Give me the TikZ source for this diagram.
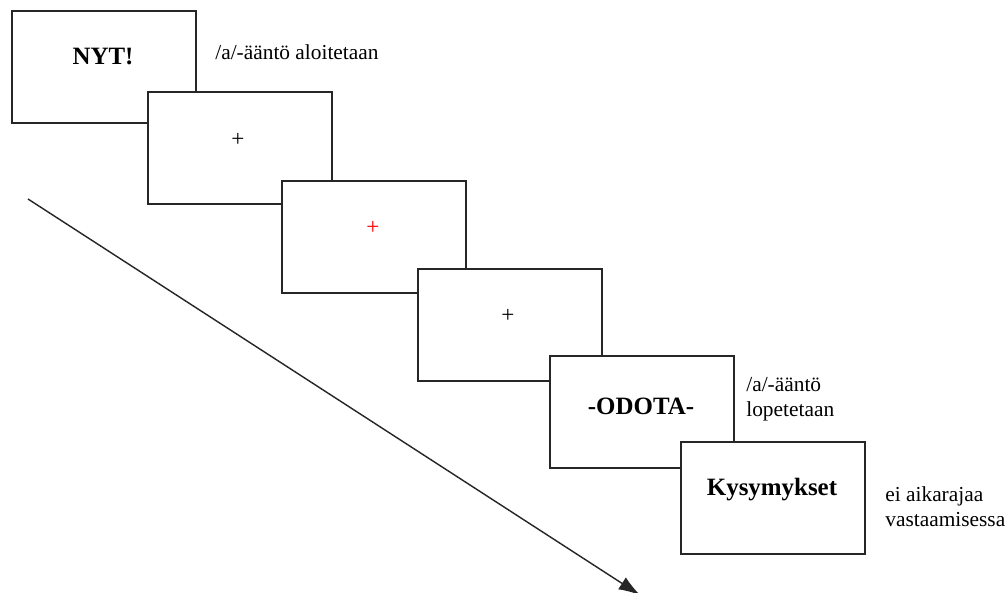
\documentclass[tikz,border=0pt]{standalone}
\usepackage{fontspec}
\setmainfont{Liberation Serif}
\usetikzlibrary{arrows.meta}
\begin{document}
\begin{tikzpicture}[x=0.5615pt,y=-0.5615pt,
  screen/.style={draw=black!85,line width=1pt,fill=white,minimum width=103.3pt,minimum height=62.9pt,inner sep=0pt,anchor=north west},
  big/.style={font=\fontsize{14}{16}\selectfont\bfseries},
  lbl/.style={font=\fontsize{12}{14}\selectfont,anchor=west,align=left,inner sep=0pt},
  crossmark/.style={font=\fontsize{13}{14}\selectfont,inner sep=0pt}]
\useasboundingbox (0,0) rectangle (1008,593);
\node[screen] (b1) at (11,10) {};
\node[screen] (b2) at (147,91) {};
\node[screen] (b3) at (281,180) {};
\node[screen] (b4) at (417,268) {};
\node[screen] (b5) at (549,355) {};
\node[screen] (b6) at (680,441) {};
\node[big] (t1) at (103,57) {NYT!};
\node[crossmark] (t2) at (238,140) {+};
\node[crossmark,text=red] (t3) at (373,228) {+};
\node[crossmark] (t4) at (508,316) {+};
\node[big] (t5) at (641,406) {-ODOTA-};
\node[big] (t6) at (772,490) {Kysymykset};
\node[lbl] (l1) at (215,52) {/a/-ääntö aloitetaan};
\node[lbl] (l2) at (746,399) {/a/-ääntö\\lopetetaan};
\node[lbl] (l3) at (885,507) {ei aikarajaa\\vastaamisessa};
\coordinate (s) at (28,199);
\coordinate (e) at (640,595);
\draw[line width=0.8pt,black!85,-{Latex[length=12pt,width=8pt]}] (s) -- (e);
\end{tikzpicture}
\end{document}
